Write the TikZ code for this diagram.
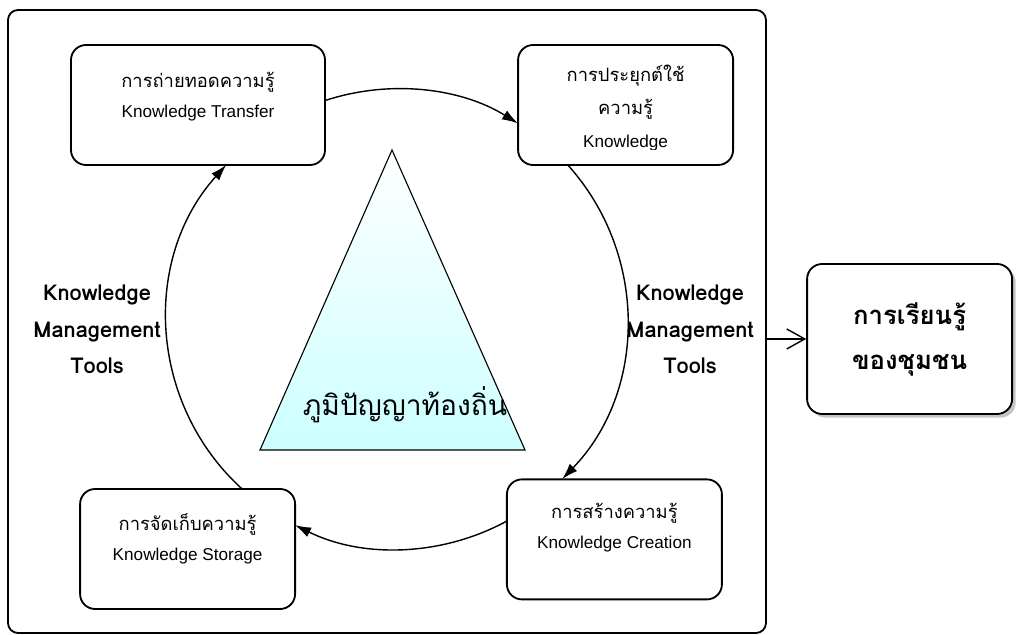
\documentclass[tikz,border=0pt]{standalone}
\usepackage{fontspec}
\setmainfont{Liberation Sans}
\newfontfamily\thaifont[Script=Thai,Scale=1.07]{Loma}
\usetikzlibrary{arrows.meta,positioning,shadows}
\definecolor{wisdomcyan}{HTML}{CCFFFF}

\tikzset{
  box/.style={draw, line width=1.3pt, rounded corners=0.375cm, minimum height=3cm, minimum width=5.375cm},
  boxtext/.style={align=center, font=\fontsize{12.2}{21.5}\selectfont},
  flow/.style={line width=1pt, -{Latex[length=4mm,width=2.6mm]}},
  kmtools/.style={align=center, font=\thaifont\bfseries\fontsize{14.5}{26}\selectfont},
}

\begin{document}
\begin{tikzpicture}
    \useasboundingbox (0,0) rectangle (25.4,15.875);
    % outer frame
    \node[draw, line width=1.3pt, rounded corners=0.25cm, minimum width=18.95cm, minimum height=15.575cm] (frame) at (9.675,7.8375) {};

    % the four steps
    \node[box, minimum width=6.35cm] (transfer) at (4.95,13.25) {};
    \node[box] (apply) at (15.64,13.25) {};
    \node[box] (create) at (15.36,2.39) {};
    \node[box] (store) at (4.69,2.15) {};

    \node[boxtext] (transfertxt) at ([yshift=0.2cm]transfer.center) {{\thaifont การถ่ายทอดความรู้}\\Knowledge Transfer};
    \begin{scope}
        \clip (apply.north west) rectangle ([yshift=0.4cm]apply.south east);
        \node[boxtext, font=\fontsize{12.2}{23.5}\selectfont] (applytxt) at ([yshift=-0.08cm]apply.center) {{\thaifont การประยุกต์ใช้}\\{\thaifont ความรู้}\\Knowledge};
    \end{scope}
    \node[boxtext] (createtxt) at ([yshift=0.29cm]create.center) {{\thaifont การสร้างความรู้}\\Knowledge Creation};
    \node[boxtext] (storetxt) at ([yshift=0.25cm]store.center) {{\thaifont การจัดเก็บความรู้}\\Knowledge Storage};

    % local wisdom
    \shade[top color=white, bottom color=wisdomcyan, draw, line width=0.8pt] (9.8,12.125) -- (13.125,4.625) -- (6.5,4.625) -- cycle;
    \node[font=\thaifont\fontsize{18.7}{22}\selectfont] (wisdom) at (10.125,5.75) {ภูมิปัญญาท้องถิ่น};

    % the cycle
    \coordinate (hub) at (9.925,7.9);
    \draw[flow] ([shift={(108.25:5.75)}]hub) arc[start angle=108.25, end angle=58.26, radius=5.75];
    \draw[flow] ([shift={(42.04:5.75)}]hub) arc[start angle=42.04, end angle=-44.08, radius=5.75];
    \draw[flow] ([shift={(-61.44:5.75)}]hub) arc[start angle=-61.44, end angle=-116.33, radius=5.75];
    \draw[flow] ([shift={(227.7:5.75)}]hub) arc[start angle=227.7, end angle=137.96, radius=5.75];

    \node[kmtools] (kmleft) at (2.425,7.64) {Knowledge\\Management\\Tools};
    \node[kmtools] (kmright) at (17.25,7.64) {Knowledge\\Management\\Tools};

    % result
    \node[box, minimum width=5.125cm, minimum height=3.75cm, fill=white, drop shadow={shadow xshift=0.09cm, shadow yshift=-0.09cm, fill=gray!90}, align=center, font=\thaifont\bfseries\fontsize{17.1}{32}\selectfont] (learning) at (22.74,7.4) {การเรียนรู้\\ของชุมชน};
    \draw[line width=1pt, -{Straight Barb[length=4.5mm,width=5mm]}] (frame.east |- learning) -- (learning);
\end{tikzpicture}
\end{document}
